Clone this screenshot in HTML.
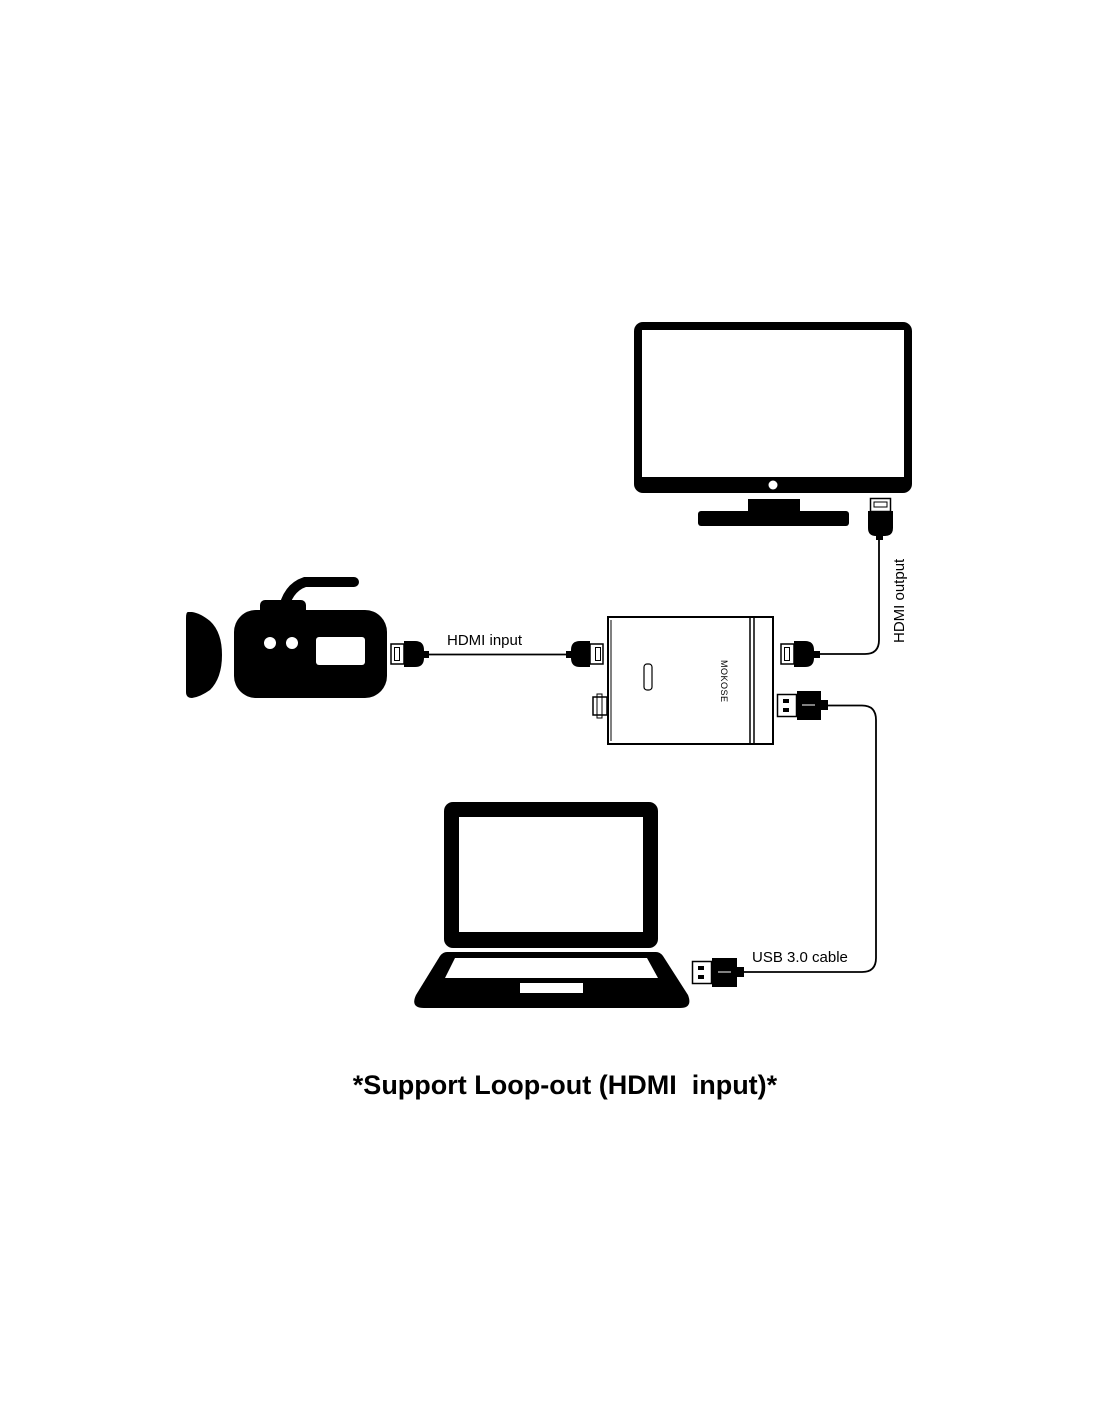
<!DOCTYPE html>
<html><head><meta charset="utf-8"><style>
html,body{margin:0;padding:0;background:#fff;}
svg{display:block;}
text{font-family:"Liberation Sans",Arial,sans-serif;fill:#000;}
</style></head><body>
<svg width="1100" height="1422" viewBox="0 0 1100 1422" xmlns="http://www.w3.org/2000/svg">
<rect width="1100" height="1422" fill="#fff"/>

<!-- TV -->
<rect x="634" y="322" width="278" height="171" rx="9" fill="#000"/>
<rect x="642" y="330" width="262" height="147" fill="#fff"/>
<circle cx="773" cy="485" r="4.5" fill="#fff"/>
<rect x="748" y="499" width="52" height="14" fill="#000"/>
<rect x="698" y="511" width="151" height="15" rx="3" fill="#000"/>

<!-- TV HDMI plug -->
<rect x="870.5" y="498.5" width="20" height="13" fill="#fff" stroke="#000" stroke-width="1.5"/>
<rect x="874" y="502" width="13" height="5" fill="#fff" stroke="#000" stroke-width="1"/>
<path d="M868 511 H893 V528 Q893 536 885 536 H876 Q868 536 868 528 Z" fill="#000"/>
<rect x="876" y="535" width="7" height="5" fill="#000"/>

<!-- HDMI output cable -->
<path d="M879 540 V640 Q879 654 865 654 H820" fill="none" stroke="#000" stroke-width="1.8"/>
<text transform="translate(904,643) rotate(-90)" font-size="15">HDMI output</text>

<!-- Camera -->
<path d="M188 612 Q186 612 186 618 V692 Q186 698 192 698 Q200 697 210 690 Q222 678 222 655 Q222 632 210 621 Q200 613 192 612 Z" fill="#000"/>
<path d="M283 612 Q287 588 305 582 H354" fill="none" stroke="#000" stroke-width="10" stroke-linecap="round"/>
<rect x="260" y="600" width="46" height="20" rx="5" fill="#000"/>
<rect x="234" y="610" width="153" height="88" rx="22" fill="#000"/>
<circle cx="270" cy="643" r="6" fill="#fff"/>
<circle cx="292" cy="643" r="6" fill="#fff"/>
<rect x="316" y="637" width="49" height="28" rx="3" fill="#fff"/>

<!-- Camera HDMI plug -->
<rect x="391" y="644" width="13" height="20" fill="#fff" stroke="#000" stroke-width="1.5"/>
<rect x="394.5" y="647.5" width="5" height="13" fill="#fff" stroke="#000" stroke-width="1"/>
<path d="M404 641 H415 Q424 641 424 650 V658 Q424 667 415 667 H404 Z" fill="#000"/>
<rect x="423" y="651" width="6" height="7" fill="#000"/>
<line x1="428" y1="654.5" x2="570" y2="654.5" stroke="#000" stroke-width="1.8"/>
<text x="447" y="645" font-size="15">HDMI input</text>

<!-- Device input plug -->
<rect x="566" y="651" width="6" height="7" fill="#000"/>
<path d="M590 641 H580 Q571 641 571 650 V658 Q571 667 580 667 H590 Z" fill="#000"/>
<rect x="590" y="644" width="13" height="20" fill="#fff" stroke="#000" stroke-width="1.5"/>
<rect x="595.5" y="647.5" width="5" height="13" fill="#fff" stroke="#000" stroke-width="1"/>

<!-- Device -->
<rect x="608" y="617" width="165" height="127" fill="#fff" stroke="#000" stroke-width="2"/>
<line x1="611" y1="620" x2="611" y2="741" stroke="#000" stroke-width="1"/>
<line x1="750" y1="617" x2="750" y2="744" stroke="#000" stroke-width="1.5"/>
<line x1="754" y1="617" x2="754" y2="744" stroke="#000" stroke-width="1.5"/>
<rect x="593" y="697" width="14" height="18" fill="#fff" stroke="#000" stroke-width="1.5"/>
<rect x="597" y="694" width="5" height="24" fill="none" stroke="#000" stroke-width="1"/>
<rect x="644" y="664" width="8" height="26" rx="3" fill="#fff" stroke="#000" stroke-width="1.2"/>
<text transform="translate(721,660) rotate(90)" font-size="9" letter-spacing="0.5">MOKOSE</text>

<!-- Device output HDMI plug -->
<rect x="781" y="644" width="13" height="20" fill="#fff" stroke="#000" stroke-width="1.5"/>
<rect x="784.5" y="647.5" width="5" height="13" fill="#fff" stroke="#000" stroke-width="1"/>
<path d="M794 641 H805 Q814 641 814 650 V658 Q814 667 805 667 H794 Z" fill="#000"/>
<rect x="813" y="651" width="7" height="7" fill="#000"/>

<!-- Device USB plug -->
<rect x="777.5" y="694.5" width="19" height="22" fill="#fff" stroke="#000" stroke-width="1.5"/>
<rect x="783" y="699" width="6" height="4" fill="#000"/>
<rect x="783" y="708" width="6" height="4" fill="#000"/>
<rect x="797" y="691" width="24" height="29" fill="#000"/>
<line x1="802" y1="705" x2="815" y2="705" stroke="#fff" stroke-width="1"/>
<rect x="820" y="700" width="8" height="10" fill="#000"/>
<path d="M828 705.5 H862 Q876 705.5 876 720 V958 Q876 972 862 972 H744" fill="none" stroke="#000" stroke-width="1.8"/>

<!-- Laptop USB plug -->
<rect x="692.5" y="961.5" width="19" height="22" fill="#fff" stroke="#000" stroke-width="1.5"/>
<rect x="698" y="966" width="6" height="4" fill="#000"/>
<rect x="698" y="975" width="6" height="4" fill="#000"/>
<rect x="712" y="958" width="25" height="29" fill="#000"/>
<line x1="718" y1="972" x2="731" y2="972" stroke="#fff" stroke-width="1"/>
<rect x="736" y="967" width="8" height="10" fill="#000"/>
<text x="752" y="962" font-size="15">USB 3.0 cable</text>

<!-- Laptop -->
<rect x="444" y="802" width="214" height="146" rx="9" fill="#000"/>
<rect x="459" y="817" width="184" height="115" fill="#fff"/>
<path d="M447 952 H656 Q660 952 663 956 L688 995 Q693 1008 680 1008 H424 Q410 1008 416 995 L440 956 Q443 952 447 952 Z" fill="#000"/>
<path d="M455 958 H647 L658 978 H445 Z" fill="#fff"/>
<rect x="520" y="983" width="63" height="10" fill="#fff"/>

<!-- Title -->
<text x="565" y="1094" font-size="27" font-weight="bold" text-anchor="middle" xml:space="preserve">*Support Loop-out (HDMI  input)*</text>
</svg>
</body></html>
